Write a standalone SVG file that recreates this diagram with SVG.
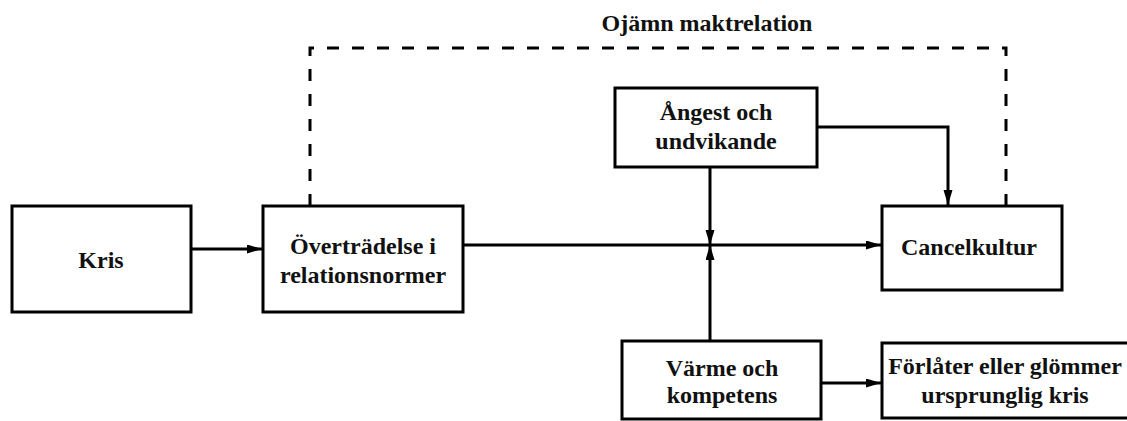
<svg xmlns="http://www.w3.org/2000/svg" width="1127" height="421" viewBox="0 0 1127 421">
  <style>
    .box { fill: #ffffff; stroke: #000000; stroke-width: 3; }
    .label { font-family: "Liberation Serif", "Times New Roman", serif; font-weight: bold; font-size: 24px; fill: #111111; text-anchor: middle; }
    .edge { fill: none; stroke: #000000; stroke-width: 3; }
    .dashed { fill: none; stroke: #000000; stroke-width: 3; stroke-dasharray: 12 13; }
  </style>
  <defs>
    <marker id="arrow" markerUnits="userSpaceOnUse" markerWidth="16" markerHeight="10" refX="15" refY="4.5" orient="auto">
      <path d="M0,0 L15,4.5 L0,9 z" fill="#000000"/>
    </marker>
  </defs>
  <rect width="1127" height="421" fill="#ffffff"/>

  <!-- connectors -->
  <g id="connectors">
    <path class="dashed" d="M310 206 V48 H1006 V206"/>
    <text class="label" x="707" y="31">Ojämn maktrelation</text>
    <path class="edge" d="M191 249 H262" marker-end="url(#arrow)"/>
    <path class="edge" d="M463 245 H881" marker-end="url(#arrow)"/>
    <path class="edge" d="M710 167 V245" marker-end="url(#arrow)"/>
    <path class="edge" d="M710 341 V245" marker-end="url(#arrow)"/>
    <path class="edge" d="M817 127 H948 V205" marker-end="url(#arrow)"/>
    <path class="edge" d="M821 383 H881" marker-end="url(#arrow)"/>
  </g>

  <g id="kris">
    <rect class="box" x="12" y="206" width="179" height="106"/>
    <text class="label" x="101" y="268">Kris</text>
  </g>

  <g id="overtradelse">
    <rect class="box" x="263" y="206" width="200" height="106"/>
    <text class="label" x="363" y="254">Överträdelse i</text>
    <text class="label" x="363" y="283">relationsnormer</text>
  </g>

  <g id="angest">
    <rect class="box" x="615" y="88" width="202" height="79"/>
    <text class="label" x="716" y="120">Ångest och</text>
    <text class="label" x="716" y="149">undvikande</text>
  </g>

  <g id="cancelkultur">
    <rect class="box" x="882" y="206" width="180" height="84"/>
    <text class="label" x="969" y="255">Cancelkultur</text>
  </g>

  <g id="varme">
    <rect class="box" x="622" y="341" width="199" height="78"/>
    <text class="label" x="722" y="376">Värme och</text>
    <text class="label" x="722" y="403">kompetens</text>
  </g>

  <g id="forlater">
    <rect class="box" x="882" y="343" width="248" height="75"/>
    <text class="label" x="1005" y="374">Förlåter eller glömmer</text>
    <text class="label" x="1005" y="403">ursprunglig kris</text>
  </g>
</svg>
